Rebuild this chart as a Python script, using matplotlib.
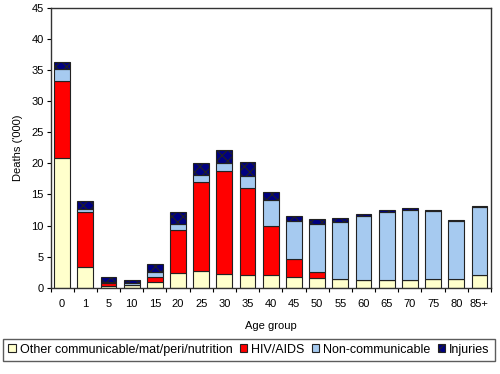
import matplotlib
matplotlib.use("Agg")
import matplotlib.pyplot as plt
import numpy as np
from matplotlib.patches import Patch

plt.rcParams['font.family'] = ['Liberation Sans', 'DejaVu Sans']
plt.rcParams['hatch.color'] = 'white'
plt.rcParams['hatch.linewidth'] = 0.8

age_groups = ['0', '1', '5', '10', '15', '20', '25', '30', '35', '40', '45',
              '50', '55', '60', '65', '70', '75', '80', '85+']
other = [20.9, 3.3, 0.3, 0.4, 0.95, 2.35, 2.7, 2.2, 1.95, 1.95, 1.75,
         1.6, 1.35, 1.2, 1.2, 1.2, 1.35, 1.35, 2.1]
hiv = [12.3, 8.8, 0.5, 0.1, 0.8, 6.9, 14.35, 16.6, 14.05, 7.9, 2.85,
       0.9, 0.0, 0.0, 0.0, 0.0, 0.0, 0.0, 0.0]
noncomm = [2.0, 0.5, 0.1, 0.2, 0.7, 1.05, 1.05, 1.2, 2.05, 4.2, 6.05,
           7.7, 9.2, 10.27, 10.9, 11.3, 10.95, 9.35, 10.9]
injuries = [1.1, 1.35, 0.75, 0.6, 1.35, 1.8, 1.9, 2.2, 2.15, 1.4, 0.9,
            0.8, 0.6, 0.45, 0.35, 0.3, 0.2, 0.25, 0.08]

series_names = ['Other communicable/mat/peri/nutrition', 'HIV/AIDS',
                'Non-communicable', 'Injuries']
colors = ['#FFFFCC', '#FF0000', '#A6CAF0', '#000080']
y_ticks = [0, 5, 10, 15, 20, 25, 30, 35, 40, 45]

fig = plt.figure(figsize=(5.0, 3.74), dpi=100)
ax = fig.add_axes([0.101, 0.231, 0.881, 0.747])

x = np.arange(len(age_groups))
w = 0.68
bottom = np.zeros(len(age_groups))
data = [other, hiv, noncomm, injuries]
for i, vals in enumerate(data):
    vals = np.array(vals)
    kw = dict(color=colors[i], edgecolor='#222222', linewidth=0.8)
    if i == 3:
        kw['hatch'] = 'xxx'
    ax.bar(x, vals, w, bottom=bottom, zorder=2, **kw)
    bottom = bottom + vals

ax.set_xlim(-0.5, len(age_groups) - 0.5)
ax.set_ylim(0, 45)
ax.set_yticks(y_ticks)
ax.set_yticklabels([str(v) for v in y_ticks], fontsize=8)
ax.set_xticks(x)
ax.set_xticklabels(age_groups, fontsize=8)
ax.tick_params(axis='x', length=0, pad=8)
ax.set_xticks(np.arange(-0.5, len(age_groups)), minor=True)
ax.tick_params(axis='x', which='minor', length=3, direction='out', width=0.8)
ax.tick_params(axis='y', length=3, direction='out', width=0.8, pad=2)
for s in ax.spines.values():
    s.set_linewidth(1.0)
    s.set_color('#333333')
ax.set_ylabel("Deaths ('000)", fontsize=8, labelpad=6)
ax.set_xlabel('Age group', fontsize=8, labelpad=9)

handles = [Patch(facecolor=colors[i], edgecolor='#222222', linewidth=0.8,
                 hatch=('xxx' if i == 3 else None), label=series_names[i])
           for i in range(4)]
leg = fig.legend(handles=handles, loc='center', ncol=4,
                 bbox_to_anchor=(0.498, 0.065), fontsize=9,
                 frameon=True, fancybox=False, edgecolor='#333333',
                 handlelength=0.6, handleheight=0.6, handletextpad=0.3,
                 columnspacing=0.6, borderpad=0.4)
leg.get_frame().set_linewidth(1.0)

fig.savefig('out.png', dpi=100)
